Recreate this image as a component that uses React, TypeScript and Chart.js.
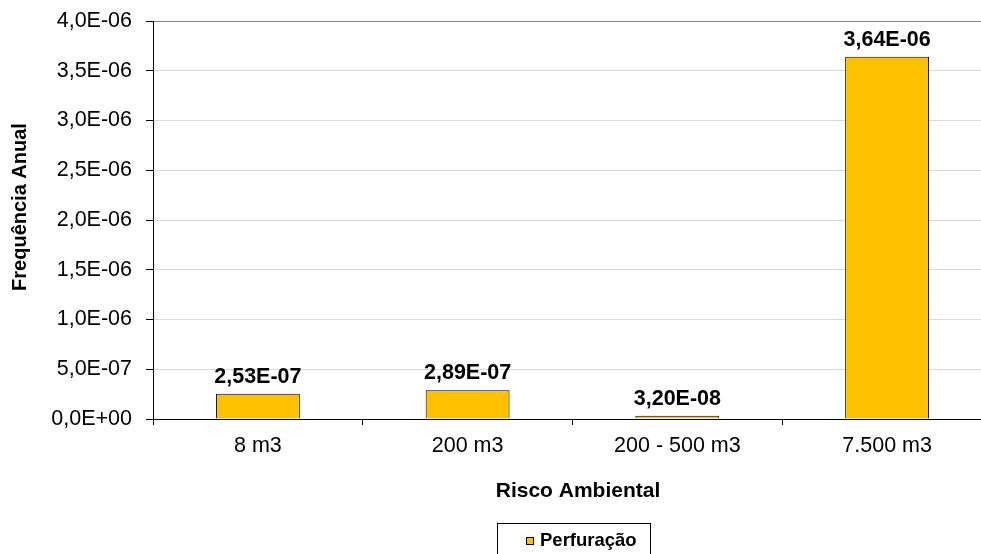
import React, { useEffect, useRef } from "react";
import { Chart, registerables } from "chart.js";

Chart.register(...registerables);

const categories = ["8 m3", "200 m3", "200 - 500 m3", "7.500 m3"];
const seriesName = "Perfuração";
const seriesValues = [2.53e-7, 2.89e-7, 3.2e-8, 3.64e-6];
const yMin = 0;
const yMax = 4e-6;
const yStep = 5e-7;
const xTitle = "Risco Ambiental";
const yTitle = "Frequência Anual";

const FONT = "'Liberation Sans', Arial, sans-serif";
const BAR_COLOR = "#FFC000";

function sci(v: number, digits: number): string {
  const s = v.toExponential(digits);
  const [m, e] = s.split("e");
  const n = parseInt(e, 10);
  const sign = n < 0 ? "-" : "+";
  const abs = Math.abs(n).toString().padStart(2, "0");
  return m.replace(".", ",") + "E" + sign + abs;
}

const decorPlugin = {
  id: "decor",
  afterDatasetsDraw(chart: any) {
    const ctx = chart.ctx;
    const meta = chart.getDatasetMeta(0);
    const ds = chart.data.datasets[0];
    ctx.save();
    ctx.fillStyle = "#000";
    ctx.font = `bold 21.5px ${FONT}`;
    ctx.textAlign = "center";
    ctx.textBaseline = "alphabetic";
    meta.data.forEach((bar: any, i: number) => {
      ctx.fillText(sci(ds.data[i] as number, 2), bar.x, bar.y - 11);
    });
    ctx.restore();
  },
  afterDraw(chart: any) {
    const ctx = chart.ctx;
    const ds = chart.data.datasets[0];
    ctx.save();
    ctx.fillStyle = "#000";
    // x title
    ctx.font = `bold 21px ${FONT}`;
    ctx.textAlign = "center";
    ctx.textBaseline = "alphabetic";
    ctx.fillText(xTitle, 578, 497);
    // y title
    ctx.save();
    ctx.translate(26, 207);
    ctx.rotate(-Math.PI / 2);
    ctx.font = `bold 20px ${FONT}`;
    ctx.fillText(yTitle, 0, 0);
    ctx.restore();
    // legend
    ctx.strokeStyle = "#000";
    ctx.lineWidth = 1;
    ctx.strokeRect(497.5, 523.5, 153, 40);
    ctx.fillStyle = ds.backgroundColor;
    ctx.fillRect(526, 537, 8, 8);
    ctx.strokeRect(526.5, 537.5, 7, 7);
    ctx.fillStyle = "#000";
    ctx.font = `bold 18.5px ${FONT}`;
    ctx.textAlign = "left";
    ctx.fillText(ds.label, 540, 546);
    ctx.restore();
  },
};

export default function App() {
  const ref = useRef<HTMLCanvasElement | null>(null);

  useEffect(() => {
    if (!ref.current) return;
    const chart = new Chart(ref.current, {
      type: "bar",
      data: {
        labels: categories,
        datasets: [
          {
            label: seriesName,
            data: seriesValues,
            backgroundColor: BAR_COLOR,
            borderColor: "#000",
            borderWidth: 1,
            categoryPercentage: 1,
            barPercentage: 0.4,
          },
        ],
      },
      options: {
        responsive: false,
        animation: false,
        devicePixelRatio: 1,
        layout: { padding: { top: 21, right: 8, left: 0, bottom: 0 } },
        plugins: {
          legend: { display: false },
          tooltip: { enabled: false },
          title: { display: false },
        },
        scales: {
          x: {
            offset: true,
            grid: {
              display: true,
              drawOnChartArea: false,
              drawTicks: true,
              tickLength: 6,
              tickColor: "#000",
              offset: true,
            },
            border: { display: true, color: "#000", width: 1 },
            ticks: {
              color: "#000",
              font: { family: FONT, size: 21.5 },
              padding: 8,
              autoSkip: false,
              maxRotation: 0,
            },
            afterFit(scale: any) {
              scale.height = 135;
              scale.paddingLeft = 0;
              scale.paddingRight = 0;
            },
          },
          y: {
            min: yMin,
            max: yMax,
            grid: {
              color: (c: any) => {
                const v = c.tick ? c.tick.value : 0;
                if (v >= yMax * 0.999) return "#868686";
                if (v <= 0) return "#000";
                return "#D9D9D9";
              },
              tickLength: 7,
              tickColor: "#000",
            },
            border: { display: true, color: "#000", width: 1 },
            ticks: {
              stepSize: yStep,
              color: "#000",
              font: { family: FONT, size: 21.5 },
              padding: 14,
              autoSkip: false,
              callback: (v: any) => sci(Number(v), 1),
            },
            afterFit(scale: any) {
              scale.width = 153;
              scale.paddingTop = 0;
              scale.paddingBottom = 0;
            },
          },
        },
      },
      plugins: [decorPlugin],
    });
    return () => chart.destroy();
  }, []);

  return (
    <div
      style={{
        position: "fixed",
        left: 0,
        top: 0,
        width: 981,
        height: 554,
        overflow: "hidden",
        background: "#fff",
      }}
    >
      <canvas ref={ref} width={1000} height={554} style={{ display: "block" }} />
    </div>
  );
}
